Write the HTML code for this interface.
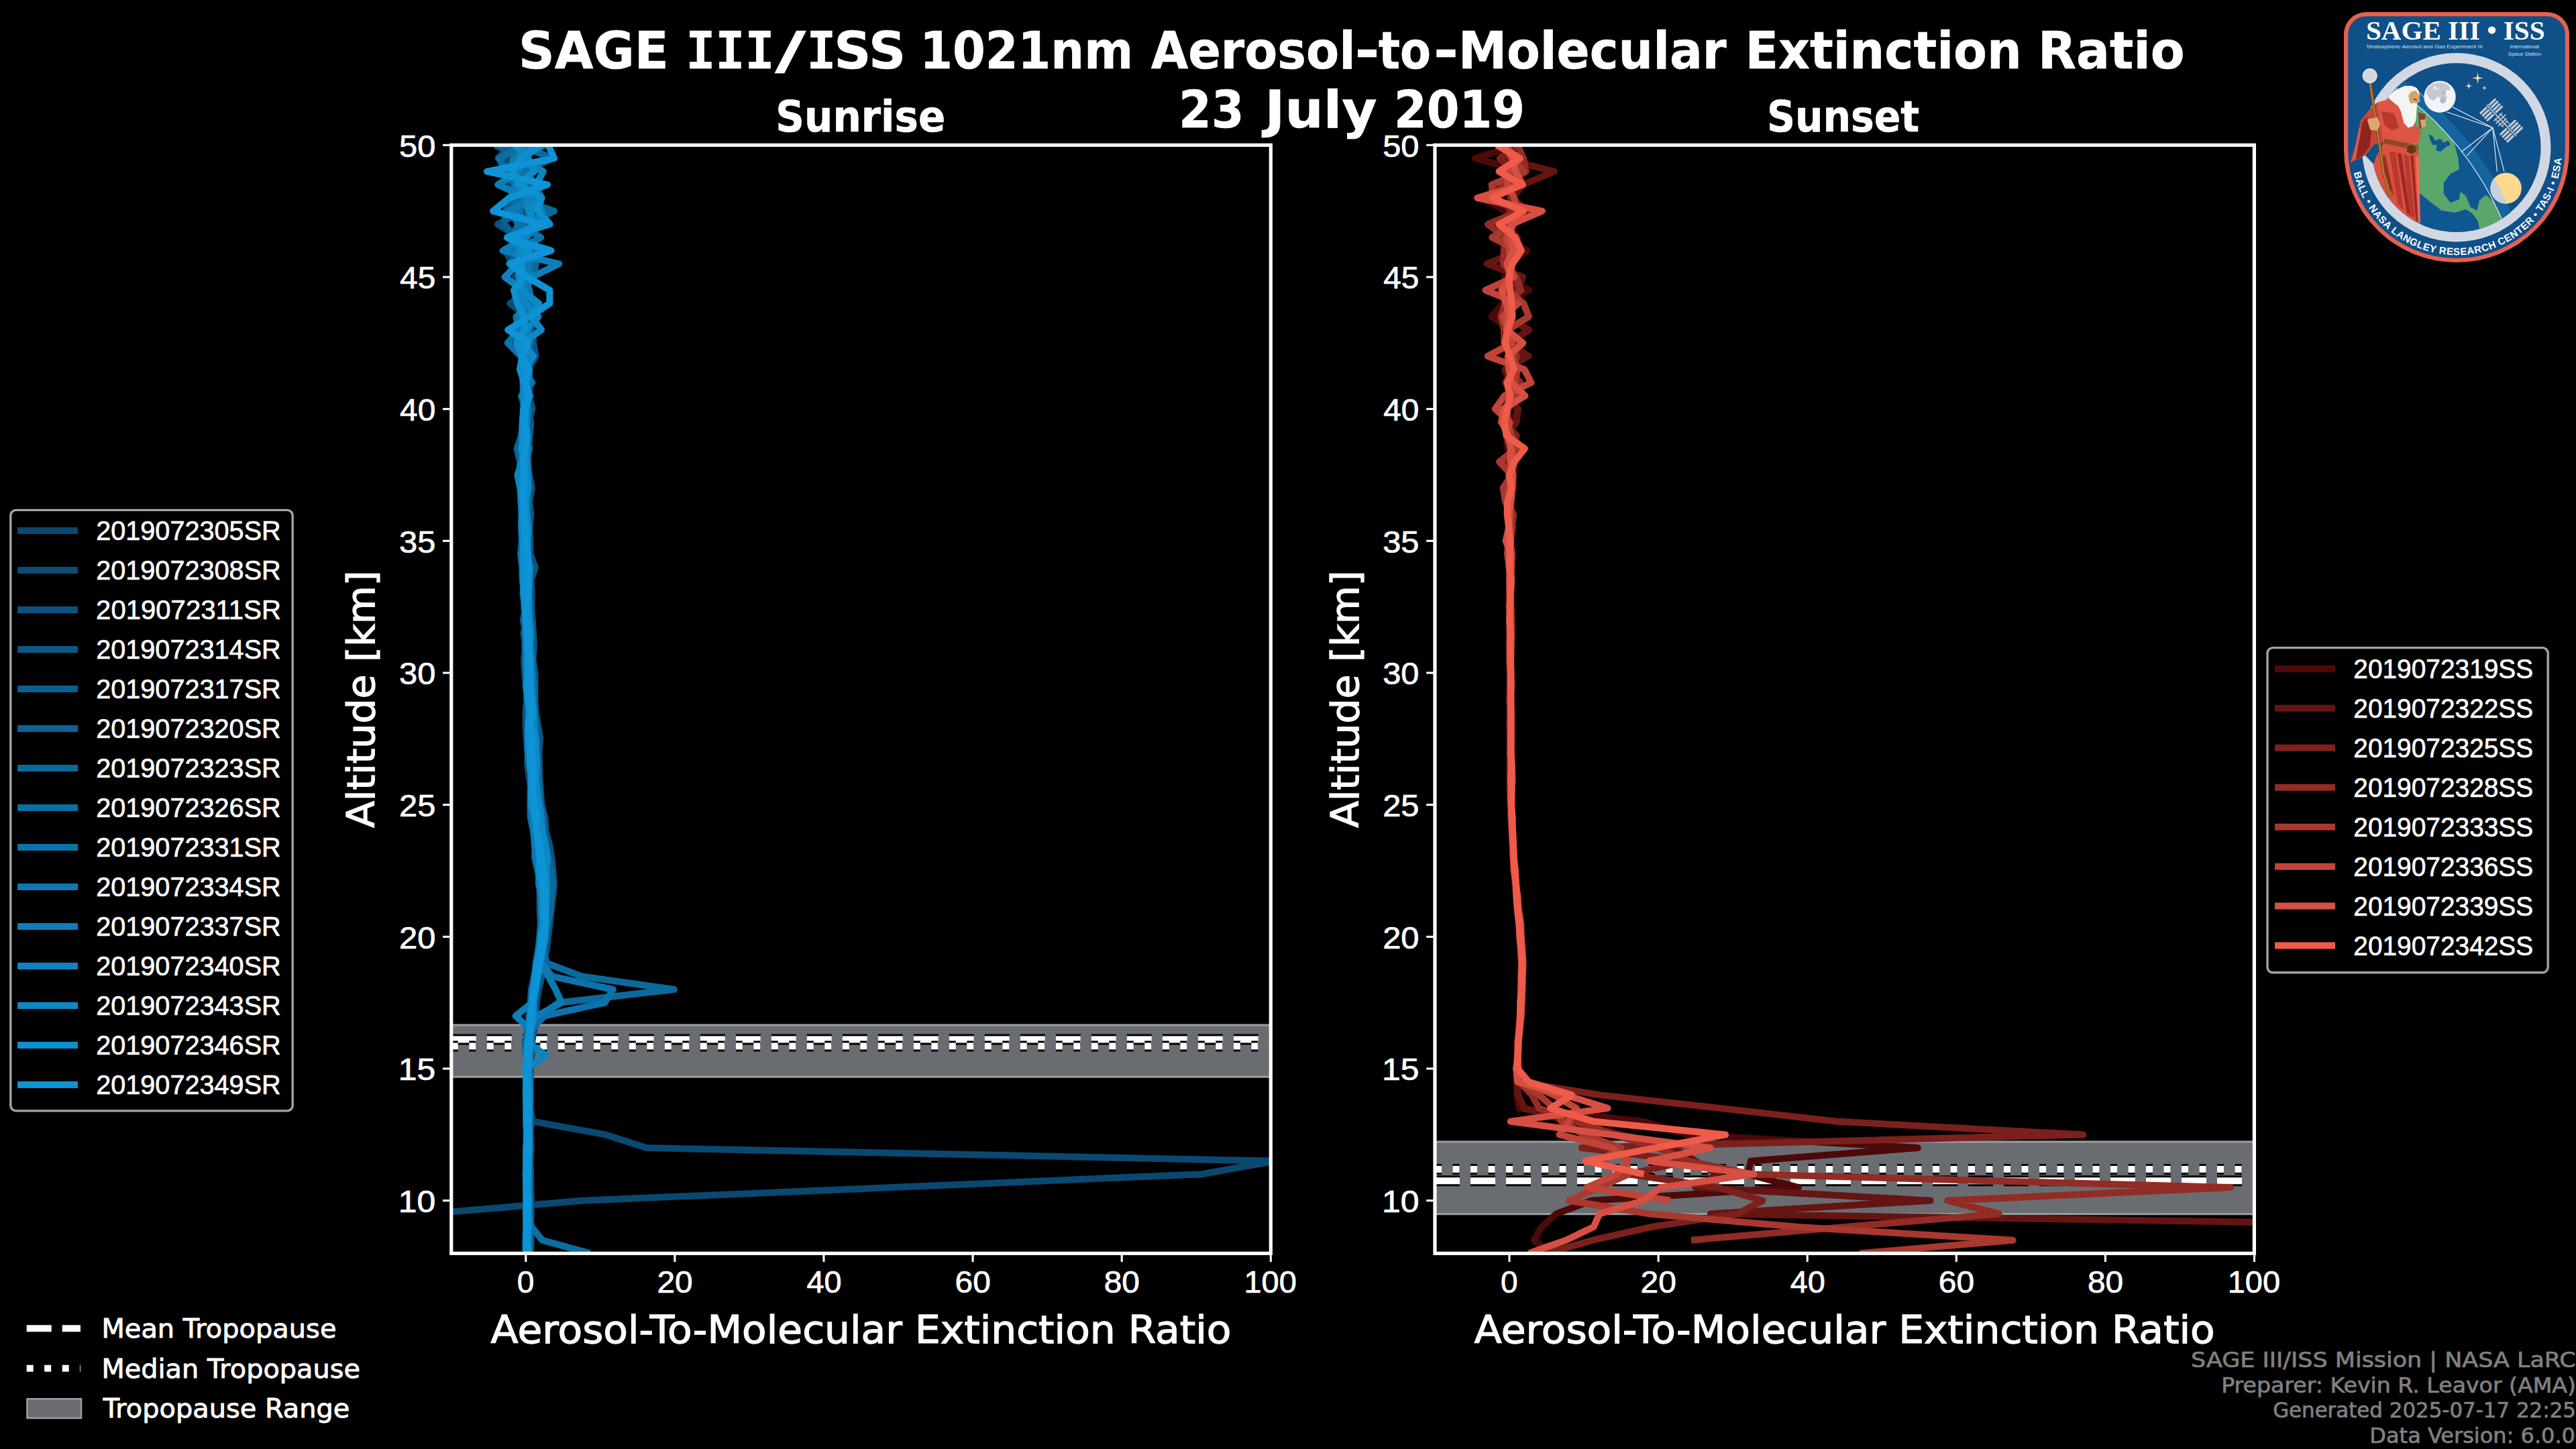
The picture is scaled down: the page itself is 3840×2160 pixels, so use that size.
<!DOCTYPE html>
<html lang="en"><head><meta charset="utf-8"><title>SAGE III/ISS 1021nm Aerosol-to-Molecular Extinction Ratio</title>
<style>html,body{margin:0;padding:0;background:#000;width:3840px;height:2160px;overflow:hidden}svg{display:block}</style></head>
<body>
<svg width="3840" height="2160" viewBox="0 0 3840 2160">
<rect width="3840" height="2160" fill="#000"/>
<defs>
<clipPath id="cl"><rect x="672.8" y="216.3" width="1221.5" height="1652.1000000000001"/></clipPath>
<clipPath id="cr"><rect x="2139.0" y="216.3" width="1221.4" height="1652.1000000000001"/></clipPath>
</defs>
<g clip-path="url(#cl)">
<rect x="672.8" y="1528.1" width="1221.5" height="77.1" fill="#696d72"/>
<line x1="672.8" x2="1894.3" y1="1528.1" y2="1528.1" stroke="#9a9ea3" stroke-width="3"/>
<line x1="672.8" x2="1894.3" y1="1605.2" y2="1605.2" stroke="#9a9ea3" stroke-width="3"/>
<line x1="672.8" x2="1894.3" y1="1549.4" y2="1549.4" stroke="#000" stroke-width="16" stroke-dasharray="37 16"/>
<line x1="672.8" x2="1894.3" y1="1549.4" y2="1549.4" stroke="#fff" stroke-width="10" stroke-dasharray="37 16"/>
<line x1="672.8" x2="1894.3" y1="1559.6" y2="1559.6" stroke="#000" stroke-width="16" stroke-dasharray="10 16.5"/>
<line x1="672.8" x2="1894.3" y1="1559.6" y2="1559.6" stroke="#fff" stroke-width="10" stroke-dasharray="10 16.5"/>
<polyline points="797.9,216.3 771.9,236.0 760.8,255.6 760.1,275.3 780.3,295.0 778.9,314.6 784.7,334.3 784.6,354.0 796.4,373.6 786.0,393.3 767.6,413.0 783.5,432.6 791.9,452.3 773.4,472.0 783.5,491.7 776.8,511.3 786.9,531.0 783.4,550.7 787.4,570.3 784.6,590.0 786.9,609.7 781.0,629.3 781.2,649.0 779.8,668.7 783.4,688.3 783.4,708.0 784.2,727.7 783.1,747.3 784.8,767.0 784.2,786.7 785.2,806.3 783.1,826.0 785.0,845.7 786.8,865.3 784.1,885.0 784.7,904.7 787.7,924.3 790.5,944.0 792.8,963.7 789.4,983.3 793.2,1003.0 795.6,1022.7 794.5,1042.4 794.3,1062.0 795.0,1081.7 794.0,1101.4 794.3,1121.0 795.3,1140.7 794.2,1160.4 798.2,1180.0 799.2,1199.7 803.9,1219.4 809.4,1239.0 812.2,1258.7 817.0,1278.4 820.3,1298.0 819.8,1317.7 817.1,1337.4 817.0,1357.0 815.7,1376.7 811.9,1396.4 809.1,1416.0 807.0,1435.7 803.3,1455.4 802.8,1475.0 798.7,1494.7 794.3,1514.4 792.3,1534.0 789.1,1553.7 788.4,1573.4 786.3,1593.0 787.8,1612.7 787.6,1632.4 790.5,1652.1 793.8,1671.7 902.7,1691.4 963.7,1711.1 1899.9,1730.7 1791.0,1750.4 1330.2,1770.1 868.2,1789.7 639.5,1809.4" fill="none" stroke="#0a4870" stroke-width="10" stroke-linejoin="round" stroke-linecap="butt"/>
<polyline points="765.7,216.3 760.2,236.0 753.3,255.6 779.4,275.3 781.0,295.0 765.6,314.6 797.6,334.3 786.9,354.0 753.5,373.6 763.7,393.3 784.2,413.0 787.5,432.6 760.2,452.3 785.6,472.0 771.4,491.7 788.2,511.3 779.5,531.0 779.9,550.7 781.9,570.3 785.9,590.0 781.8,609.7 780.3,629.3 778.4,649.0 778.1,668.7 776.5,688.3 777.8,708.0 779.3,727.7 779.5,747.3 781.1,767.0 782.5,786.7 778.2,806.3 777.4,826.0 782.5,845.7 782.5,865.3 781.5,885.0 781.1,904.7 783.8,924.3 780.5,944.0 783.2,963.7 781.1,983.3 782.0,1003.0 784.0,1022.7 785.2,1042.4 783.6,1062.0 783.6,1081.7 784.7,1101.4 786.7,1121.0 786.1,1140.7 789.0,1160.4 792.3,1180.0 795.7,1199.7 796.4,1219.4 800.0,1239.0 801.0,1258.7 804.2,1278.4 808.2,1298.0 806.0,1317.7 808.2,1337.4 806.7,1357.0 806.8,1376.7 804.8,1396.4 801.8,1416.0 798.4,1435.7 797.6,1455.4 792.0,1475.0 790.3,1494.7 788.1,1514.4 788.0,1534.0 785.2,1553.7 784.9,1573.4 784.9,1593.0 785.4,1612.7 784.6,1632.4 784.1,1652.1 784.8,1671.7 785.2,1691.4 784.9,1711.1 785.7,1730.7 785.1,1750.4 785.2,1770.1 785.4,1789.7 785.3,1809.4 784.8,1829.1 783.8,1848.7 786.1,1868.4" fill="none" stroke="#0a4d77" stroke-width="10" stroke-linejoin="round" stroke-linecap="butt"/>
<polyline points="761.6,216.3 742.6,236.0 778.4,255.6 790.3,275.3 805.2,295.0 782.2,314.6 741.9,334.3 773.9,354.0 794.6,373.6 799.0,393.3 772.4,413.0 784.7,432.6 784.4,452.3 798.6,472.0 792.1,491.7 795.3,511.3 798.5,531.0 787.0,550.7 790.2,570.3 788.5,590.0 793.6,609.7 787.4,629.3 788.3,649.0 788.0,668.7 787.1,688.3 788.9,708.0 792.9,727.7 789.2,747.3 791.5,767.0 789.2,786.7 790.3,806.3 790.4,826.0 797.9,845.7 791.5,865.3 792.7,885.0 792.3,904.7 793.3,924.3 795.1,944.0 795.9,963.7 794.4,983.3 797.6,1003.0 797.3,1022.7 797.4,1042.4 798.4,1062.0 802.2,1081.7 805.3,1101.4 803.3,1121.0 804.1,1140.7 804.3,1160.4 805.9,1180.0 807.5,1199.7 812.5,1219.4 813.7,1239.0 819.0,1258.7 822.4,1278.4 824.3,1298.0 826.0,1317.7 824.0,1337.4 821.6,1357.0 819.5,1376.7 816.9,1396.4 814.7,1416.0 809.6,1435.7 807.7,1455.4 803.0,1475.0 799.7,1494.7 798.8,1514.4 796.5,1534.0 793.0,1553.7 792.8,1573.4 791.1,1593.0 790.3,1612.7 791.1,1632.4 790.7,1652.1 791.7,1671.7 790.6,1691.4 791.6,1711.1 790.3,1730.7 791.2,1750.4 791.2,1770.1 791.9,1789.7 791.7,1809.4 791.2,1829.1 791.7,1848.7 790.7,1868.4" fill="none" stroke="#0b537f" stroke-width="10" stroke-linejoin="round" stroke-linecap="butt"/>
<polyline points="793.8,216.3 780.1,236.0 792.3,255.6 770.9,275.3 785.9,295.0 801.3,314.6 779.6,334.3 772.5,354.0 795.2,373.6 785.7,393.3 787.2,413.0 781.5,432.6 782.4,452.3 775.4,472.0 784.9,491.7 785.2,511.3 785.7,531.0 784.3,550.7 790.5,570.3 781.3,590.0 784.1,609.7 791.4,629.3 789.6,649.0 787.3,668.7 783.9,688.3 785.1,708.0 783.6,727.7 788.1,747.3 784.3,767.0 786.6,786.7 787.3,806.3 788.0,826.0 789.4,845.7 787.5,865.3 788.9,885.0 788.9,904.7 793.6,924.3 794.0,944.0 795.1,963.7 793.1,983.3 794.3,1003.0 793.9,1022.7 796.6,1042.4 796.4,1062.0 796.6,1081.7 798.7,1101.4 801.0,1121.0 802.4,1140.7 802.6,1160.4 801.6,1180.0 805.3,1199.7 806.6,1219.4 807.9,1239.0 810.5,1258.7 813.5,1278.4 817.3,1298.0 814.8,1317.7 815.5,1337.4 814.6,1357.0 813.0,1376.7 811.7,1396.4 809.2,1416.0 808.4,1435.7 803.6,1455.4 799.6,1475.0 798.7,1494.7 795.2,1514.4 794.2,1534.0 791.2,1553.7 788.5,1573.4 788.0,1593.0 787.6,1612.7 788.6,1632.4 787.8,1652.1 789.3,1671.7 789.0,1691.4 789.2,1711.1 789.7,1730.7 789.5,1750.4 789.2,1770.1 789.7,1789.7 789.8,1809.4 789.3,1829.1 789.2,1848.7 789.3,1868.4" fill="none" stroke="#0b5886" stroke-width="10" stroke-linejoin="round" stroke-linecap="butt"/>
<polyline points="738.2,216.3 777.9,236.0 772.2,255.6 792.7,275.3 763.1,295.0 753.8,314.6 751.9,334.3 769.1,354.0 781.6,373.6 780.7,393.3 796.4,413.0 768.7,432.6 797.8,452.3 782.6,472.0 776.1,491.7 782.1,511.3 783.0,531.0 776.5,550.7 782.4,570.3 790.5,590.0 780.2,609.7 779.0,629.3 778.0,649.0 774.0,668.7 777.1,688.3 775.7,708.0 776.8,727.7 780.5,747.3 780.6,767.0 779.0,786.7 780.3,806.3 780.9,826.0 780.1,845.7 781.8,865.3 779.5,885.0 783.3,904.7 779.8,924.3 784.1,944.0 782.3,963.7 784.4,983.3 784.3,1003.0 786.3,1022.7 785.9,1042.4 785.3,1062.0 788.0,1081.7 787.4,1101.4 789.4,1121.0 791.5,1140.7 794.1,1160.4 794.7,1180.0 794.8,1199.7 800.1,1219.4 801.6,1239.0 801.9,1258.7 803.4,1278.4 806.1,1298.0 809.0,1317.7 809.9,1337.4 810.9,1357.0 808.5,1376.7 805.5,1396.4 802.4,1416.0 800.4,1435.7 796.1,1455.4 792.2,1475.0 792.3,1494.7 790.6,1514.4 788.5,1534.0 786.9,1553.7 787.2,1573.4 785.4,1593.0 785.6,1612.7 786.1,1632.4 785.8,1652.1 786.4,1671.7 786.5,1691.4 785.6,1711.1 785.8,1730.7 785.7,1750.4 784.7,1770.1 784.7,1789.7 784.5,1809.4 785.1,1829.1 784.4,1848.7 784.6,1868.4" fill="none" stroke="#0b5e8d" stroke-width="10" stroke-linejoin="round" stroke-linecap="butt"/>
<polyline points="748.1,216.3 787.4,236.0 754.7,255.6 777.2,275.3 787.3,295.0 760.8,314.6 786.7,334.3 775.3,354.0 772.7,373.6 761.0,393.3 793.6,413.0 780.7,432.6 779.4,452.3 776.5,472.0 788.8,491.7 790.9,511.3 777.1,531.0 778.5,550.7 779.9,570.3 780.4,590.0 780.4,609.7 779.0,629.3 777.2,649.0 770.6,668.7 775.2,688.3 774.5,708.0 776.3,727.7 776.1,747.3 778.3,767.0 777.2,786.7 777.8,806.3 776.0,826.0 778.2,845.7 778.7,865.3 781.5,885.0 783.5,904.7 782.7,924.3 785.0,944.0 785.9,963.7 783.2,983.3 784.3,1003.0 784.6,1022.7 786.9,1042.4 787.6,1062.0 787.9,1081.7 790.6,1101.4 790.1,1121.0 790.2,1140.7 791.1,1160.4 790.7,1180.0 790.3,1199.7 790.8,1219.4 794.9,1239.0 798.1,1258.7 797.0,1278.4 801.4,1298.0 805.1,1317.7 804.7,1337.4 804.9,1357.0 805.8,1376.7 804.5,1396.4 802.6,1416.0 799.8,1435.7 798.1,1455.4 795.1,1475.0 793.4,1494.7 789.7,1514.4 787.2,1534.0 782.3,1553.7 784.6,1573.4 784.9,1593.0 784.0,1612.7 785.5,1632.4 784.6,1652.1 784.5,1671.7 785.2,1691.4 785.8,1711.1 785.2,1730.7 784.8,1750.4 784.2,1770.1 784.9,1789.7 784.3,1809.4 784.1,1829.1 783.3,1848.7 783.6,1868.4" fill="none" stroke="#0b6394" stroke-width="10" stroke-linejoin="round" stroke-linecap="butt"/>
<polyline points="774.8,216.3 823.2,236.0 780.3,255.6 773.5,275.3 766.3,295.0 826.0,314.6 785.2,334.3 783.6,354.0 766.4,373.6 798.5,393.3 795.8,413.0 781.5,432.6 778.2,452.3 781.2,472.0 778.5,491.7 790.6,511.3 788.0,531.0 785.9,550.7 783.3,570.3 782.0,590.0 787.0,609.7 783.8,629.3 786.1,649.0 789.3,668.7 782.9,688.3 788.3,708.0 785.5,727.7 787.8,747.3 786.6,767.0 786.1,786.7 784.0,806.3 785.4,826.0 789.5,845.7 789.6,865.3 788.1,885.0 790.2,904.7 788.4,924.3 789.9,944.0 787.9,963.7 791.3,983.3 792.7,1003.0 797.2,1022.7 796.4,1042.4 797.1,1062.0 798.6,1081.7 799.7,1101.4 800.6,1121.0 801.0,1140.7 803.1,1160.4 803.6,1180.0 806.0,1199.7 809.1,1219.4 810.5,1239.0 813.2,1258.7 817.5,1278.4 821.6,1298.0 823.7,1317.7 821.4,1337.4 819.9,1357.0 816.1,1376.7 812.5,1396.4 810.0,1416.0 814.9,1435.7 867.1,1455.4 1004.8,1475.0 832.7,1494.7 804.9,1514.4 793.4,1534.0 790.7,1553.7 790.9,1573.4 789.6,1593.0 790.4,1612.7 789.9,1632.4 789.2,1652.1 789.4,1671.7 789.0,1691.4 789.3,1711.1 789.5,1730.7 788.5,1750.4 787.9,1770.1 788.3,1789.7 788.9,1809.4 788.4,1829.1 788.9,1848.7 789.6,1868.4" fill="none" stroke="#0c699c" stroke-width="10" stroke-linejoin="round" stroke-linecap="butt"/>
<polyline points="783.0,216.3 744.0,236.0 754.0,255.6 767.2,275.3 761.6,295.0 775.3,314.6 772.5,334.3 763.0,354.0 793.5,373.6 780.9,393.3 773.9,413.0 779.9,432.6 783.0,452.3 776.0,472.0 787.8,491.7 778.0,511.3 780.4,531.0 779.0,550.7 793.3,570.3 777.1,590.0 782.9,609.7 786.0,629.3 786.4,649.0 786.9,668.7 781.1,688.3 782.0,708.0 780.3,727.7 783.1,747.3 780.0,767.0 779.9,786.7 781.0,806.3 784.1,826.0 781.0,845.7 782.5,865.3 784.9,885.0 783.7,904.7 784.6,924.3 782.5,944.0 783.9,963.7 784.7,983.3 788.1,1003.0 783.5,1022.7 789.3,1042.4 788.6,1062.0 790.3,1081.7 790.2,1101.4 790.4,1121.0 790.9,1140.7 795.4,1160.4 794.7,1180.0 797.4,1199.7 800.2,1219.4 799.9,1239.0 801.5,1258.7 804.7,1278.4 811.0,1298.0 811.9,1317.7 814.2,1337.4 813.5,1357.0 812.3,1376.7 810.3,1396.4 807.6,1416.0 804.7,1435.7 800.5,1455.4 797.6,1475.0 793.7,1494.7 791.4,1514.4 789.9,1534.0 788.0,1553.7 787.0,1573.4 785.5,1593.0 785.3,1612.7 785.1,1632.4 785.3,1652.1 786.3,1671.7 785.4,1691.4 786.9,1711.1 786.4,1730.7 785.3,1750.4 785.7,1770.1 785.7,1789.7 786.3,1809.4 792.7,1829.1 808.3,1848.7 879.3,1868.4" fill="none" stroke="#0c6ea3" stroke-width="10" stroke-linejoin="round" stroke-linecap="butt"/>
<polyline points="807.4,216.3 769.4,236.0 784.8,255.6 797.2,275.3 807.6,295.0 759.3,314.6 773.2,334.3 806.4,354.0 770.5,373.6 778.1,393.3 779.6,413.0 789.3,432.6 791.8,452.3 769.3,472.0 773.4,491.7 756.8,511.3 776.5,531.0 787.7,550.7 786.4,570.3 781.0,590.0 788.1,609.7 785.4,629.3 779.8,649.0 779.7,668.7 778.2,688.3 779.0,708.0 782.3,727.7 778.2,747.3 778.7,767.0 779.7,786.7 780.1,806.3 781.7,826.0 783.2,845.7 784.6,865.3 788.1,885.0 786.4,904.7 786.9,924.3 788.1,944.0 783.4,963.7 786.8,983.3 789.8,1003.0 790.9,1022.7 791.8,1042.4 789.4,1062.0 793.5,1081.7 791.8,1101.4 794.6,1121.0 795.6,1140.7 795.7,1160.4 796.5,1180.0 796.6,1199.7 799.6,1219.4 803.0,1239.0 805.8,1258.7 806.2,1278.4 808.5,1298.0 811.4,1317.7 813.7,1337.4 813.6,1357.0 808.9,1376.7 809.2,1396.4 806.7,1416.0 808.3,1435.7 822.7,1455.4 913.8,1475.0 901.6,1494.7 811.6,1514.4 792.3,1534.0 788.9,1553.7 788.4,1573.4 786.7,1593.0 787.5,1612.7 786.7,1632.4 786.3,1652.1 785.8,1671.7 786.2,1691.4 785.8,1711.1 786.4,1730.7 786.5,1750.4 786.3,1770.1 786.3,1789.7 786.7,1809.4 787.3,1829.1 786.9,1848.7 786.5,1868.4" fill="none" stroke="#0c73aa" stroke-width="10" stroke-linejoin="round" stroke-linecap="butt"/>
<polyline points="802.0,216.3 765.6,236.0 760.9,255.6 774.4,275.3 798.0,295.0 757.4,314.6 800.6,334.3 762.7,354.0 803.6,373.6 787.5,393.3 791.1,413.0 781.4,432.6 792.7,452.3 777.1,472.0 774.1,491.7 779.5,511.3 779.4,531.0 777.7,550.7 779.7,570.3 779.8,590.0 783.6,609.7 781.4,629.3 778.7,649.0 781.6,668.7 777.7,688.3 777.5,708.0 780.1,727.7 782.5,747.3 780.2,767.0 782.9,786.7 782.8,806.3 778.2,826.0 779.9,845.7 781.4,865.3 780.1,885.0 782.0,904.7 784.0,924.3 786.3,944.0 786.6,963.7 787.5,983.3 786.7,1003.0 786.9,1022.7 788.4,1042.4 789.1,1062.0 787.3,1081.7 786.9,1101.4 786.6,1121.0 789.7,1140.7 794.2,1160.4 792.4,1180.0 792.0,1199.7 793.1,1219.4 795.5,1239.0 796.7,1258.7 798.9,1278.4 803.2,1298.0 803.0,1317.7 806.9,1337.4 808.3,1357.0 808.6,1376.7 806.5,1396.4 804.3,1416.0 806.1,1435.7 817.2,1455.4 828.3,1475.0 837.1,1494.7 800.5,1514.4 788.6,1534.0 786.8,1553.7 784.8,1573.4 784.8,1593.0 784.7,1612.7 784.0,1632.4 784.4,1652.1 784.2,1671.7 785.2,1691.4 784.2,1711.1 783.9,1730.7 784.3,1750.4 784.2,1770.1 784.2,1789.7 783.8,1809.4 784.6,1829.1 784.2,1848.7 784.4,1868.4" fill="none" stroke="#0d79b2" stroke-width="10" stroke-linejoin="round" stroke-linecap="butt"/>
<polyline points="811.1,216.3 776.3,236.0 773.9,255.6 742.2,275.3 785.6,295.0 808.1,314.6 798.0,334.3 784.1,354.0 749.7,373.6 833.2,393.3 792.9,413.0 766.5,432.6 783.8,452.3 774.0,472.0 787.6,491.7 783.1,511.3 783.2,531.0 789.2,550.7 787.8,570.3 781.6,590.0 780.9,609.7 782.5,629.3 782.7,649.0 786.2,668.7 784.5,688.3 781.7,708.0 780.3,727.7 783.2,747.3 783.6,767.0 783.4,786.7 783.8,806.3 784.2,826.0 785.0,845.7 786.1,865.3 783.2,885.0 786.2,904.7 787.8,924.3 788.2,944.0 790.0,963.7 792.5,983.3 793.0,1003.0 792.3,1022.7 793.7,1042.4 796.0,1062.0 796.7,1081.7 796.5,1101.4 793.4,1121.0 798.3,1140.7 796.9,1160.4 796.3,1180.0 798.0,1199.7 802.0,1219.4 803.6,1239.0 804.7,1258.7 807.5,1278.4 810.3,1298.0 810.7,1317.7 810.6,1337.4 810.9,1357.0 810.6,1376.7 809.7,1396.4 804.1,1416.0 801.3,1435.7 796.9,1455.4 795.7,1475.0 793.2,1494.7 768.7,1514.4 789.7,1534.0 788.7,1553.7 787.0,1573.4 786.6,1593.0 785.7,1612.7 785.7,1632.4 786.4,1652.1 786.5,1671.7 786.6,1691.4 787.2,1711.1 787.2,1730.7 787.2,1750.4 786.5,1770.1 786.4,1789.7 787.0,1809.4 786.2,1829.1 784.4,1848.7 786.4,1868.4" fill="none" stroke="#0d7eb9" stroke-width="10" stroke-linejoin="round" stroke-linecap="butt"/>
<polyline points="787.1,216.3 776.0,236.0 809.7,255.6 799.5,275.3 785.8,295.0 787.7,314.6 795.9,334.3 779.1,354.0 776.7,373.6 771.6,393.3 752.6,413.0 778.8,432.6 781.9,452.3 802.5,472.0 783.7,491.7 783.8,511.3 779.0,531.0 781.0,550.7 782.0,570.3 780.3,590.0 782.4,609.7 779.9,629.3 778.2,649.0 781.2,668.7 777.7,688.3 771.5,708.0 775.3,727.7 777.8,747.3 777.6,767.0 777.5,786.7 779.4,806.3 781.1,826.0 780.6,845.7 780.8,865.3 783.0,885.0 783.4,904.7 783.7,924.3 784.8,944.0 787.6,963.7 784.6,983.3 785.8,1003.0 787.2,1022.7 788.7,1042.4 791.7,1062.0 789.3,1081.7 789.1,1101.4 792.0,1121.0 792.7,1140.7 792.9,1160.4 795.3,1180.0 796.4,1199.7 800.5,1219.4 801.7,1239.0 800.2,1258.7 804.1,1278.4 807.2,1298.0 810.2,1317.7 808.9,1337.4 810.6,1357.0 810.1,1376.7 808.4,1396.4 804.1,1416.0 801.2,1435.7 798.6,1455.4 793.9,1475.0 792.6,1494.7 789.8,1514.4 789.5,1534.0 786.4,1553.7 813.8,1573.4 785.4,1593.0 785.2,1612.7 784.6,1632.4 786.0,1652.1 785.7,1671.7 784.7,1691.4 785.1,1711.1 784.9,1730.7 785.8,1750.4 784.6,1770.1 785.1,1789.7 784.7,1809.4 786.3,1829.1 786.0,1848.7 785.2,1868.4" fill="none" stroke="#0d84c0" stroke-width="10" stroke-linejoin="round" stroke-linecap="butt"/>
<polyline points="767.8,216.3 787.6,236.0 796.4,255.6 769.5,275.3 804.0,295.0 791.7,314.6 794.4,334.3 778.6,354.0 774.6,373.6 773.1,393.3 773.6,413.0 777.8,432.6 803.0,452.3 793.0,472.0 807.0,491.7 779.5,511.3 794.9,531.0 782.8,550.7 784.3,570.3 779.4,590.0 783.7,609.7 784.4,629.3 783.0,649.0 782.0,668.7 785.7,688.3 786.2,708.0 787.9,727.7 783.5,747.3 784.9,767.0 787.5,786.7 786.5,806.3 786.3,826.0 789.6,845.7 788.8,865.3 787.9,885.0 787.7,904.7 789.1,924.3 791.4,944.0 789.5,963.7 789.7,983.3 791.6,1003.0 791.7,1022.7 793.7,1042.4 793.5,1062.0 793.2,1081.7 798.4,1101.4 798.9,1121.0 800.2,1140.7 798.5,1160.4 800.7,1180.0 803.7,1199.7 806.8,1219.4 808.2,1239.0 812.7,1258.7 815.8,1278.4 813.9,1298.0 815.1,1317.7 814.4,1337.4 813.6,1357.0 812.4,1376.7 812.9,1396.4 809.0,1416.0 805.5,1435.7 801.6,1455.4 798.5,1475.0 795.4,1494.7 795.1,1514.4 791.5,1534.0 790.3,1553.7 789.5,1573.4 788.2,1593.0 788.8,1612.7 788.7,1632.4 788.9,1652.1 788.5,1671.7 788.7,1691.4 788.6,1711.1 787.3,1730.7 787.8,1750.4 787.9,1770.1 788.7,1789.7 788.1,1809.4 788.3,1829.1 786.9,1848.7 788.1,1868.4" fill="none" stroke="#0d89c7" stroke-width="10" stroke-linejoin="round" stroke-linecap="butt"/>
<polyline points="805.0,216.3 776.4,236.0 763.5,255.6 776.4,275.3 807.2,295.0 802.0,314.6 819.8,334.3 755.9,354.0 788.5,373.6 777.0,393.3 780.3,413.0 766.0,432.6 771.3,452.3 781.0,472.0 782.3,491.7 770.0,511.3 778.5,531.0 774.9,550.7 781.5,570.3 786.3,590.0 780.4,609.7 778.8,629.3 779.6,649.0 777.4,668.7 781.9,688.3 780.0,708.0 778.2,727.7 783.0,747.3 778.8,767.0 781.8,786.7 780.9,806.3 779.5,826.0 780.2,845.7 780.3,865.3 781.3,885.0 782.9,904.7 784.5,924.3 785.8,944.0 785.5,963.7 787.6,983.3 786.4,1003.0 785.2,1022.7 786.6,1042.4 789.6,1062.0 787.1,1081.7 787.7,1101.4 790.1,1121.0 789.9,1140.7 792.5,1160.4 791.8,1180.0 792.9,1199.7 797.6,1219.4 800.0,1239.0 802.4,1258.7 804.2,1278.4 804.1,1298.0 807.1,1317.7 809.8,1337.4 808.4,1357.0 810.1,1376.7 805.9,1396.4 804.7,1416.0 799.8,1435.7 797.5,1455.4 796.3,1475.0 793.6,1494.7 791.7,1514.4 789.0,1534.0 786.1,1553.7 785.0,1573.4 783.2,1593.0 784.4,1612.7 783.7,1632.4 785.2,1652.1 785.1,1671.7 786.1,1691.4 784.8,1711.1 784.8,1730.7 783.7,1750.4 784.7,1770.1 785.1,1789.7 785.6,1809.4 785.5,1829.1 785.3,1848.7 785.2,1868.4" fill="none" stroke="#0e8fcf" stroke-width="10" stroke-linejoin="round" stroke-linecap="butt"/>
<polyline points="817.2,216.3 826.0,236.0 726.1,255.6 816.0,275.3 759.4,295.0 735.0,314.6 809.4,334.3 756.1,354.0 821.6,373.6 759.4,393.3 786.1,413.0 819.4,432.6 819.4,452.3 789.4,472.0 757.2,491.7 787.2,511.3 778.5,531.0 788.3,550.7 783.4,570.3 788.9,590.0 783.6,609.7 781.2,629.3 786.3,649.0 783.5,668.7 780.2,688.3 781.3,708.0 780.4,727.7 780.0,747.3 781.1,767.0 783.6,786.7 783.5,806.3 786.8,826.0 787.2,845.7 785.5,865.3 787.0,885.0 785.4,904.7 783.7,924.3 787.1,944.0 788.0,963.7 789.5,983.3 788.2,1003.0 789.9,1022.7 790.8,1042.4 793.6,1062.0 789.9,1081.7 793.1,1101.4 793.1,1121.0 793.3,1140.7 794.6,1160.4 793.8,1180.0 796.7,1199.7 800.2,1219.4 799.1,1239.0 804.9,1258.7 806.4,1278.4 809.7,1298.0 810.6,1317.7 812.7,1337.4 812.3,1357.0 813.3,1376.7 810.1,1396.4 807.4,1416.0 804.4,1435.7 800.1,1455.4 797.2,1475.0 793.1,1494.7 792.6,1514.4 790.6,1534.0 789.4,1553.7 786.7,1573.4 785.9,1593.0 785.2,1612.7 787.0,1632.4 786.8,1652.1 787.5,1671.7 787.0,1691.4 787.2,1711.1 786.7,1730.7 787.1,1750.4 785.7,1770.1 786.0,1789.7 785.7,1809.4 784.9,1829.1 785.5,1848.7 785.8,1868.4" fill="none" stroke="#0e94d6" stroke-width="10" stroke-linejoin="round" stroke-linecap="butt"/>
</g>
<rect x="672.8" y="216.3" width="1221.5" height="1652.1000000000001" fill="none" stroke="#fff" stroke-width="5.2"/>
<line x1="660.0" x2="670.8" y1="1789.7" y2="1789.7" stroke="#fff" stroke-width="3.1"/>
<line x1="660.0" x2="670.8" y1="1593.0" y2="1593.0" stroke="#fff" stroke-width="3.1"/>
<line x1="660.0" x2="670.8" y1="1396.4" y2="1396.4" stroke="#fff" stroke-width="3.1"/>
<line x1="660.0" x2="670.8" y1="1199.7" y2="1199.7" stroke="#fff" stroke-width="3.1"/>
<line x1="660.0" x2="670.8" y1="1003.0" y2="1003.0" stroke="#fff" stroke-width="3.1"/>
<line x1="660.0" x2="670.8" y1="806.3" y2="806.3" stroke="#fff" stroke-width="3.1"/>
<line x1="660.0" x2="670.8" y1="609.7" y2="609.7" stroke="#fff" stroke-width="3.1"/>
<line x1="660.0" x2="670.8" y1="413.0" y2="413.0" stroke="#fff" stroke-width="3.1"/>
<line x1="660.0" x2="670.8" y1="216.3" y2="216.3" stroke="#fff" stroke-width="3.1"/>
<line x1="783.8" x2="783.8" y1="1870.4" y2="1881.1" stroke="#fff" stroke-width="3.1"/>
<line x1="1005.9" x2="1005.9" y1="1870.4" y2="1881.1" stroke="#fff" stroke-width="3.1"/>
<line x1="1228.0" x2="1228.0" y1="1870.4" y2="1881.1" stroke="#fff" stroke-width="3.1"/>
<line x1="1450.1" x2="1450.1" y1="1870.4" y2="1881.1" stroke="#fff" stroke-width="3.1"/>
<line x1="1672.2" x2="1672.2" y1="1870.4" y2="1881.1" stroke="#fff" stroke-width="3.1"/>
<line x1="1894.3" x2="1894.3" y1="1870.4" y2="1881.1" stroke="#fff" stroke-width="3.1"/>
<g clip-path="url(#cr)">
<rect x="2139.0" y="1702.0" width="1221.4" height="107.8" fill="#696d72"/>
<line x1="2139.0" x2="3360.4" y1="1702.0" y2="1702.0" stroke="#9a9ea3" stroke-width="3"/>
<line x1="2139.0" x2="3360.4" y1="1809.8" y2="1809.8" stroke="#9a9ea3" stroke-width="3"/>
<line x1="2139.0" x2="3360.4" y1="1760.2" y2="1760.2" stroke="#000" stroke-width="16" stroke-dasharray="37 16"/>
<line x1="2139.0" x2="3360.4" y1="1760.2" y2="1760.2" stroke="#fff" stroke-width="10" stroke-dasharray="37 16"/>
<line x1="2139.0" x2="3360.4" y1="1742.9" y2="1742.9" stroke="#000" stroke-width="16" stroke-dasharray="10 16.5"/>
<line x1="2139.0" x2="3360.4" y1="1742.9" y2="1742.9" stroke="#fff" stroke-width="10" stroke-dasharray="10 16.5"/>
<polyline points="2262.0,216.3 2199.0,236.0 2272.7,255.6 2242.8,275.3 2208.4,295.0 2244.8,314.6 2251.5,334.3 2242.2,354.0 2276.3,373.6 2250.0,393.3 2243.1,413.0 2279.1,432.6 2240.2,452.3 2223.5,472.0 2252.9,491.7 2257.3,511.3 2246.2,531.0 2257.6,550.7 2249.8,570.3 2247.4,590.0 2263.7,609.7 2253.7,629.3 2256.6,649.0 2263.1,668.7 2248.4,688.3 2254.7,708.0 2256.3,727.7 2245.4,747.3 2246.6,767.0 2248.4,786.7 2250.8,806.3 2251.5,826.0 2251.4,845.7 2251.4,865.3 2249.7,885.0 2249.2,904.7 2251.8,924.3 2250.8,944.0 2250.3,963.7 2250.1,983.3 2251.0,1003.0 2252.2,1022.7 2250.5,1042.4 2251.3,1062.0 2249.7,1081.7 2252.2,1101.4 2251.4,1121.0 2251.8,1140.7 2252.1,1160.4 2251.5,1180.0 2252.4,1199.7 2254.0,1219.4 2254.0,1239.0 2255.1,1258.7 2255.8,1278.4 2258.5,1298.0 2259.9,1317.7 2261.2,1337.4 2264.6,1357.0 2265.2,1376.7 2267.6,1396.4 2268.5,1416.0 2269.5,1435.7 2268.3,1455.4 2267.7,1475.0 2267.0,1494.7 2266.0,1514.4 2264.4,1534.0 2262.4,1553.7 2261.3,1573.4 2261.2,1593.0 2261.2,1612.7 2261.2,1632.4 2264.5,1652.1 2449.9,1671.7 2516.6,1691.4 2858.6,1711.1 2609.8,1730.7 2605.4,1750.4 2680.9,1770.1 2372.2,1789.7 2320.0,1809.4 2297.8,1829.1 2286.7,1848.7 2311.1,1868.4" fill="none" stroke="#4d0909" stroke-width="10" stroke-linejoin="round" stroke-linecap="butt"/>
<polyline points="2253.7,216.3 2238.8,236.0 2316.7,255.6 2270.4,275.3 2254.5,295.0 2276.4,314.6 2243.5,334.3 2261.9,354.0 2264.5,373.6 2216.7,393.3 2270.2,413.0 2260.8,432.6 2262.8,452.3 2242.3,472.0 2279.4,491.7 2248.9,511.3 2278.7,531.0 2243.3,550.7 2250.9,570.3 2246.7,590.0 2262.6,609.7 2260.7,629.3 2245.5,649.0 2248.3,668.7 2257.1,688.3 2256.3,708.0 2255.2,727.7 2246.8,747.3 2250.2,767.0 2250.2,786.7 2252.5,806.3 2250.4,826.0 2249.2,845.7 2251.2,865.3 2250.4,885.0 2250.6,904.7 2250.5,924.3 2250.7,944.0 2249.1,963.7 2250.3,983.3 2251.1,1003.0 2250.9,1022.7 2249.2,1042.4 2252.7,1062.0 2251.3,1081.7 2252.2,1101.4 2251.0,1121.0 2250.5,1140.7 2250.5,1160.4 2250.7,1180.0 2251.4,1199.7 2253.0,1219.4 2254.1,1239.0 2255.1,1258.7 2255.7,1278.4 2257.7,1298.0 2258.4,1317.7 2260.2,1337.4 2261.4,1357.0 2264.2,1376.7 2265.9,1396.4 2266.8,1416.0 2268.7,1435.7 2267.8,1455.4 2266.8,1475.0 2266.8,1494.7 2265.7,1514.4 2264.9,1534.0 2263.1,1553.7 2261.9,1573.4 2261.2,1593.0 2261.2,1612.7 2263.4,1632.4 2272.3,1652.1 2338.9,1671.7 2416.6,1691.4 2494.3,1711.1 2527.7,1730.7 2561.0,1750.4 2527.7,1770.1 2877.5,1789.7 2549.9,1809.4 3826.9,1829.1" fill="none" stroke="#641512" stroke-width="10" stroke-linejoin="round" stroke-linecap="butt"/>
<polyline points="2263.4,216.3 2235.7,236.0 2254.8,255.6 2253.2,275.3 2251.0,295.0 2251.1,314.6 2245.0,334.3 2252.4,354.0 2256.5,373.6 2246.0,393.3 2253.5,413.0 2264.5,432.6 2245.3,452.3 2236.7,472.0 2248.0,491.7 2267.0,511.3 2251.7,531.0 2255.5,550.7 2244.4,570.3 2253.1,590.0 2243.0,609.7 2237.1,629.3 2260.7,649.0 2254.1,668.7 2246.6,688.3 2250.3,708.0 2252.1,727.7 2250.1,747.3 2250.2,767.0 2255.0,786.7 2251.7,806.3 2252.5,826.0 2252.0,845.7 2251.8,865.3 2251.7,885.0 2251.2,904.7 2251.1,924.3 2249.9,944.0 2251.4,963.7 2251.7,983.3 2251.4,1003.0 2251.1,1022.7 2251.2,1042.4 2251.1,1062.0 2250.8,1081.7 2251.2,1101.4 2251.9,1121.0 2251.3,1140.7 2251.6,1160.4 2251.6,1180.0 2252.9,1199.7 2253.7,1219.4 2254.7,1239.0 2256.1,1258.7 2256.4,1278.4 2258.7,1298.0 2259.4,1317.7 2261.2,1337.4 2263.3,1357.0 2264.6,1376.7 2267.2,1396.4 2267.6,1416.0 2269.0,1435.7 2269.4,1455.4 2269.0,1475.0 2268.2,1494.7 2267.6,1514.4 2266.0,1534.0 2263.9,1553.7 2263.0,1573.4 2261.2,1593.0 2263.4,1612.7 2385.5,1632.4 2565.4,1652.1 2738.6,1671.7 3105.1,1691.4 2357.8,1711.1 2516.6,1730.7 2427.7,1750.4 2561.0,1770.1 2627.6,1789.7 2589.8,1809.4 2461.0,1829.1 2374.4,1848.7 2305.6,1868.4" fill="none" stroke="#7b201c" stroke-width="10" stroke-linejoin="round" stroke-linecap="butt"/>
<polyline points="2262.1,216.3 2271.0,236.0 2274.8,255.6 2244.2,275.3 2219.5,295.0 2265.1,314.6 2217.9,334.3 2244.0,354.0 2241.9,373.6 2240.8,393.3 2260.1,413.0 2267.3,432.6 2243.6,452.3 2237.4,472.0 2242.0,491.7 2242.3,511.3 2261.7,531.0 2249.5,550.7 2266.0,570.3 2262.4,590.0 2245.7,609.7 2237.7,629.3 2251.1,649.0 2257.7,668.7 2252.3,688.3 2249.2,708.0 2250.1,727.7 2247.7,747.3 2256.3,767.0 2253.3,786.7 2251.8,806.3 2249.3,826.0 2251.1,845.7 2249.9,865.3 2251.3,885.0 2252.1,904.7 2252.2,924.3 2251.9,944.0 2252.6,963.7 2250.2,983.3 2251.3,1003.0 2251.9,1022.7 2251.8,1042.4 2251.8,1062.0 2251.7,1081.7 2251.3,1101.4 2251.0,1121.0 2253.2,1140.7 2252.0,1160.4 2252.0,1180.0 2252.8,1199.7 2252.5,1219.4 2254.0,1239.0 2254.5,1258.7 2255.9,1278.4 2258.3,1298.0 2259.7,1317.7 2262.4,1337.4 2263.6,1357.0 2265.6,1376.7 2267.8,1396.4 2268.4,1416.0 2269.7,1435.7 2267.8,1455.4 2268.2,1475.0 2266.5,1494.7 2266.6,1514.4 2264.3,1534.0 2263.6,1553.7 2262.3,1573.4 2262.3,1593.0 2264.5,1612.7 2283.4,1632.4 2294.5,1652.1 2350.0,1671.7 2405.5,1691.4 2472.1,1711.1 2516.6,1730.7 2610.9,1750.4 3325.0,1770.1 2903.0,1789.7 2979.6,1809.4 2749.8,1829.1 2521.0,1848.7" fill="none" stroke="#922c25" stroke-width="10" stroke-linejoin="round" stroke-linecap="butt"/>
<polyline points="2246.9,216.3 2252.4,236.0 2271.4,255.6 2223.7,275.3 2225.9,295.0 2268.4,314.6 2254.4,334.3 2224.3,354.0 2262.7,373.6 2252.7,393.3 2249.6,413.0 2247.4,432.6 2271.2,452.3 2278.9,472.0 2247.4,491.7 2249.4,511.3 2256.3,531.0 2261.6,550.7 2258.9,570.3 2260.9,590.0 2247.7,609.7 2247.0,629.3 2253.1,649.0 2259.8,668.7 2235.1,688.3 2253.3,708.0 2240.7,727.7 2244.0,747.3 2251.9,767.0 2252.5,786.7 2251.2,806.3 2254.2,826.0 2253.1,845.7 2253.2,865.3 2252.2,885.0 2252.3,904.7 2253.1,924.3 2253.2,944.0 2252.8,963.7 2252.2,983.3 2251.7,1003.0 2252.8,1022.7 2251.5,1042.4 2252.5,1062.0 2252.4,1081.7 2251.6,1101.4 2252.3,1121.0 2252.4,1140.7 2251.9,1160.4 2252.4,1180.0 2252.7,1199.7 2253.8,1219.4 2253.8,1239.0 2255.9,1258.7 2257.1,1278.4 2258.3,1298.0 2259.7,1317.7 2261.1,1337.4 2263.2,1357.0 2265.6,1376.7 2265.9,1396.4 2267.9,1416.0 2269.2,1435.7 2269.1,1455.4 2268.3,1475.0 2268.2,1494.7 2266.8,1514.4 2264.4,1534.0 2263.6,1553.7 2262.7,1573.4 2262.3,1593.0 2266.7,1612.7 2294.5,1632.4 2316.7,1652.1 2327.8,1671.7 2361.1,1691.4 2416.6,1711.1 2383.3,1730.7 2427.7,1750.4 2383.3,1770.1 2338.9,1789.7 2457.7,1809.4 2680.9,1829.1 3000.7,1848.7 2772.0,1868.4" fill="none" stroke="#a9382f" stroke-width="10" stroke-linejoin="round" stroke-linecap="butt"/>
<polyline points="2236.1,216.3 2266.3,236.0 2248.0,255.6 2247.3,275.3 2256.9,295.0 2262.8,314.6 2256.3,334.3 2245.4,354.0 2250.8,373.6 2249.8,393.3 2257.0,413.0 2214.5,432.6 2263.0,452.3 2240.0,472.0 2248.4,491.7 2254.5,511.3 2217.8,531.0 2272.3,550.7 2282.6,570.3 2242.6,590.0 2228.9,609.7 2250.7,629.3 2246.4,649.0 2253.1,668.7 2257.6,688.3 2250.9,708.0 2251.7,727.7 2249.4,747.3 2248.6,767.0 2249.3,786.7 2248.7,806.3 2247.1,826.0 2250.0,845.7 2251.1,865.3 2251.5,885.0 2251.2,904.7 2250.4,924.3 2251.3,944.0 2251.1,963.7 2250.8,983.3 2251.8,1003.0 2252.7,1022.7 2252.0,1042.4 2251.6,1062.0 2252.3,1081.7 2252.2,1101.4 2251.3,1121.0 2252.4,1140.7 2252.1,1160.4 2251.7,1180.0 2252.9,1199.7 2252.9,1219.4 2254.1,1239.0 2255.4,1258.7 2255.7,1278.4 2256.5,1298.0 2259.6,1317.7 2261.6,1337.4 2263.0,1357.0 2265.4,1376.7 2265.2,1396.4 2266.8,1416.0 2268.0,1435.7 2267.3,1455.4 2267.2,1475.0 2267.2,1494.7 2266.2,1514.4 2264.2,1534.0 2262.5,1553.7 2262.7,1573.4 2263.4,1593.0 2272.3,1612.7 2316.7,1632.4 2350.0,1652.1 2338.9,1671.7 2324.4,1691.4 2403.3,1711.1 2427.7,1730.7 2411.1,1750.4 2365.5,1770.1 2489.9,1789.7" fill="none" stroke="#c04438" stroke-width="10" stroke-linejoin="round" stroke-linecap="butt"/>
<polyline points="2241.9,216.3 2255.4,236.0 2259.0,255.6 2269.8,275.3 2202.3,295.0 2298.9,314.6 2252.7,334.3 2252.9,354.0 2256.5,373.6 2246.2,393.3 2252.1,413.0 2238.4,432.6 2244.9,452.3 2250.1,472.0 2245.7,491.7 2270.2,511.3 2248.1,531.0 2249.3,550.7 2253.5,570.3 2273.4,590.0 2240.7,609.7 2239.1,629.3 2247.7,649.0 2252.2,668.7 2251.6,688.3 2255.0,708.0 2254.1,727.7 2252.6,747.3 2249.5,767.0 2249.1,786.7 2244.6,806.3 2252.2,826.0 2251.8,845.7 2250.4,865.3 2250.6,885.0 2251.8,904.7 2249.9,924.3 2251.6,944.0 2251.7,963.7 2251.6,983.3 2251.6,1003.0 2251.6,1022.7 2252.6,1042.4 2252.1,1062.0 2252.7,1081.7 2251.8,1101.4 2252.3,1121.0 2253.7,1140.7 2254.5,1160.4 2253.4,1180.0 2253.3,1199.7 2253.3,1219.4 2255.3,1239.0 2255.8,1258.7 2256.3,1278.4 2259.1,1298.0 2259.8,1317.7 2262.5,1337.4 2263.7,1357.0 2267.1,1376.7 2267.7,1396.4 2269.2,1416.0 2270.6,1435.7 2269.8,1455.4 2269.3,1475.0 2268.5,1494.7 2267.5,1514.4 2265.0,1534.0 2263.7,1553.7 2262.8,1573.4 2260.0,1593.0 2262.3,1612.7 2334.4,1632.4 2396.6,1652.1 2251.7,1671.7 2401.1,1691.4 2549.9,1711.1 2458.8,1730.7 2614.3,1750.4 2475.5,1770.1 2449.9,1789.7 2384.4,1809.4 2375.5,1829.1 2334.4,1848.7 2278.9,1868.4" fill="none" stroke="#d74f42" stroke-width="10" stroke-linejoin="round" stroke-linecap="butt"/>
<polyline points="2231.2,216.3 2265.6,236.0 2234.5,255.6 2268.9,275.3 2224.5,295.0 2271.1,314.6 2234.5,334.3 2258.9,354.0 2267.8,373.6 2254.5,393.3 2248.9,413.0 2251.2,432.6 2253.4,452.3 2254.5,472.0 2247.8,491.7 2243.4,511.3 2251.2,531.0 2256.7,550.7 2246.7,570.3 2251.2,590.0 2246.7,609.7 2242.7,629.3 2245.4,649.0 2272.9,668.7 2257.4,688.3 2249.8,708.0 2253.1,727.7 2247.2,747.3 2246.8,767.0 2249.4,786.7 2251.5,806.3 2250.9,826.0 2250.2,845.7 2252.6,865.3 2251.5,885.0 2250.4,904.7 2251.0,924.3 2251.6,944.0 2251.3,963.7 2252.0,983.3 2252.6,1003.0 2252.4,1022.7 2252.1,1042.4 2252.7,1062.0 2252.4,1081.7 2252.9,1101.4 2252.5,1121.0 2253.4,1140.7 2252.0,1160.4 2253.4,1180.0 2252.8,1199.7 2254.7,1219.4 2254.4,1239.0 2255.8,1258.7 2256.5,1278.4 2258.0,1298.0 2260.0,1317.7 2260.5,1337.4 2262.2,1357.0 2264.2,1376.7 2265.8,1396.4 2267.9,1416.0 2268.8,1435.7 2268.7,1455.4 2267.8,1475.0 2266.3,1494.7 2266.0,1514.4 2265.3,1534.0 2263.0,1553.7 2262.4,1573.4 2262.3,1593.0 2278.9,1612.7 2343.3,1632.4 2311.1,1652.1 2375.5,1671.7 2572.1,1691.4 2467.7,1711.1 2363.3,1730.7 2450.5,1750.4" fill="none" stroke="#ee5b4b" stroke-width="10" stroke-linejoin="round" stroke-linecap="butt"/>
</g>
<rect x="2139.0" y="216.3" width="1221.4" height="1652.1000000000001" fill="none" stroke="#fff" stroke-width="5.2"/>
<line x1="2126.2" x2="2137.0" y1="1789.7" y2="1789.7" stroke="#fff" stroke-width="3.1"/>
<line x1="2126.2" x2="2137.0" y1="1593.0" y2="1593.0" stroke="#fff" stroke-width="3.1"/>
<line x1="2126.2" x2="2137.0" y1="1396.4" y2="1396.4" stroke="#fff" stroke-width="3.1"/>
<line x1="2126.2" x2="2137.0" y1="1199.7" y2="1199.7" stroke="#fff" stroke-width="3.1"/>
<line x1="2126.2" x2="2137.0" y1="1003.0" y2="1003.0" stroke="#fff" stroke-width="3.1"/>
<line x1="2126.2" x2="2137.0" y1="806.3" y2="806.3" stroke="#fff" stroke-width="3.1"/>
<line x1="2126.2" x2="2137.0" y1="609.7" y2="609.7" stroke="#fff" stroke-width="3.1"/>
<line x1="2126.2" x2="2137.0" y1="413.0" y2="413.0" stroke="#fff" stroke-width="3.1"/>
<line x1="2126.2" x2="2137.0" y1="216.3" y2="216.3" stroke="#fff" stroke-width="3.1"/>
<line x1="2250.0" x2="2250.0" y1="1870.4" y2="1881.1" stroke="#fff" stroke-width="3.1"/>
<line x1="2472.1" x2="2472.1" y1="1870.4" y2="1881.1" stroke="#fff" stroke-width="3.1"/>
<line x1="2694.2" x2="2694.2" y1="1870.4" y2="1881.1" stroke="#fff" stroke-width="3.1"/>
<line x1="2916.3" x2="2916.3" y1="1870.4" y2="1881.1" stroke="#fff" stroke-width="3.1"/>
<line x1="3138.4" x2="3138.4" y1="1870.4" y2="1881.1" stroke="#fff" stroke-width="3.1"/>
<line x1="3360.5" x2="3360.5" y1="1870.4" y2="1881.1" stroke="#fff" stroke-width="3.1"/>
<rect x="15.8" y="760.4" width="420.4" height="895.5" rx="8" ry="8" fill="#000" stroke="#a3a3a3" stroke-width="3.4"/>
<line x1="26.1" x2="116" y1="791.0" y2="791.0" stroke="#0a4870" stroke-width="10"/>
<line x1="26.1" x2="116" y1="850.0" y2="850.0" stroke="#0a4d77" stroke-width="10"/>
<line x1="26.1" x2="116" y1="909.0" y2="909.0" stroke="#0b537f" stroke-width="10"/>
<line x1="26.1" x2="116" y1="968.0" y2="968.0" stroke="#0b5886" stroke-width="10"/>
<line x1="26.1" x2="116" y1="1027.0" y2="1027.0" stroke="#0b5e8d" stroke-width="10"/>
<line x1="26.1" x2="116" y1="1086.0" y2="1086.0" stroke="#0b6394" stroke-width="10"/>
<line x1="26.1" x2="116" y1="1145.0" y2="1145.0" stroke="#0c699c" stroke-width="10"/>
<line x1="26.1" x2="116" y1="1204.0" y2="1204.0" stroke="#0c6ea3" stroke-width="10"/>
<line x1="26.1" x2="116" y1="1263.0" y2="1263.0" stroke="#0c73aa" stroke-width="10"/>
<line x1="26.1" x2="116" y1="1322.0" y2="1322.0" stroke="#0d79b2" stroke-width="10"/>
<line x1="26.1" x2="116" y1="1381.0" y2="1381.0" stroke="#0d7eb9" stroke-width="10"/>
<line x1="26.1" x2="116" y1="1440.0" y2="1440.0" stroke="#0d84c0" stroke-width="10"/>
<line x1="26.1" x2="116" y1="1499.0" y2="1499.0" stroke="#0d89c7" stroke-width="10"/>
<line x1="26.1" x2="116" y1="1558.0" y2="1558.0" stroke="#0e8fcf" stroke-width="10"/>
<line x1="26.1" x2="116" y1="1617.0" y2="1617.0" stroke="#0e94d6" stroke-width="10"/>
<rect x="3380.0" y="965.6" width="418.2" height="484.2" rx="8" ry="8" fill="#000" stroke="#a3a3a3" stroke-width="3.4"/>
<line x1="3391" x2="3481" y1="996.9" y2="996.9" stroke="#4d0909" stroke-width="10"/>
<line x1="3391" x2="3481" y1="1055.8" y2="1055.8" stroke="#641512" stroke-width="10"/>
<line x1="3391" x2="3481" y1="1114.8" y2="1114.8" stroke="#7b201c" stroke-width="10"/>
<line x1="3391" x2="3481" y1="1173.8" y2="1173.8" stroke="#922c25" stroke-width="10"/>
<line x1="3391" x2="3481" y1="1232.7" y2="1232.7" stroke="#a9382f" stroke-width="10"/>
<line x1="3391" x2="3481" y1="1291.7" y2="1291.7" stroke="#c04438" stroke-width="10"/>
<line x1="3391" x2="3481" y1="1350.6" y2="1350.6" stroke="#d74f42" stroke-width="10"/>
<line x1="3391" x2="3481" y1="1409.5" y2="1409.5" stroke="#ee5b4b" stroke-width="10"/>
<line x1="39.7" x2="120" y1="1980.2" y2="1980.2" stroke="#fff" stroke-width="10" stroke-dasharray="37 16"/>
<line x1="39.7" x2="120" y1="2039.7" y2="2039.7" stroke="#fff" stroke-width="10" stroke-dasharray="10 16.5"/>
<rect x="40.5" y="2085.3" width="80.5" height="28.6" fill="#696d72" stroke="#9a9ea3" stroke-width="2.6"/>
<text transform="translate(773.12,101.70) scale(0.9763,1)" font-family="'DejaVu Sans','Liberation Sans',sans-serif" font-size="76.4" font-weight="bold" fill="#fff" stroke="#fff" stroke-width="0.6">SAGE</text>
<text transform="translate(1022.13,101.70) scale(0.9619,1)" font-family="'DejaVu Sans Mono','Liberation Mono',monospace" font-size="76.4" font-weight="bold" fill="#fff" stroke="#fff" stroke-width="0.6">III</text><text transform="translate(1155.30,101.70) scale(1.6500,1)" font-family="'DejaVu Sans','Liberation Sans',sans-serif" font-size="76.4" font-weight="bold" fill="#fff" stroke="#fff" stroke-width="0.6">/</text><text transform="translate(1202.48,101.70) scale(0.9529,1)" font-family="'DejaVu Sans Mono','Liberation Mono',monospace" font-size="76.4" font-weight="bold" fill="#fff" stroke="#fff" stroke-width="0.6">I</text><text transform="translate(1243.28,101.70) scale(1.0042,1)" font-family="'DejaVu Sans','Liberation Sans',sans-serif" font-size="76.4" font-weight="bold" fill="#fff" stroke="#fff" stroke-width="0.6">SS</text>
<text transform="translate(1371.26,101.70) scale(0.9177,1)" font-family="'DejaVu Sans','Liberation Sans',sans-serif" font-size="76.4" font-weight="bold" fill="#fff" stroke="#fff" stroke-width="0.6">1021nm</text>
<text transform="translate(1715.70,101.70) scale(0.9379,1)" font-family="'DejaVu Sans','Liberation Sans',sans-serif" font-size="76.4" font-weight="bold" fill="#fff" stroke="#fff" stroke-width="0.6">Aerosol</text><text transform="translate(2019.53,101.70) scale(1.1667,1)" font-family="'DejaVu Sans','Liberation Sans',sans-serif" font-size="76.4" font-weight="bold" fill="#fff" stroke="#fff" stroke-width="0.6">-</text><text transform="translate(2055.02,101.70) scale(0.8765,1)" font-family="'DejaVu Sans','Liberation Sans',sans-serif" font-size="76.4" font-weight="bold" fill="#fff" stroke="#fff" stroke-width="0.6">to</text><text transform="translate(2136.93,101.70) scale(1.1667,1)" font-family="'DejaVu Sans','Liberation Sans',sans-serif" font-size="76.4" font-weight="bold" fill="#fff" stroke="#fff" stroke-width="0.6">-</text><text transform="translate(2174.07,101.70) scale(0.9475,1)" font-family="'DejaVu Sans','Liberation Sans',sans-serif" font-size="76.4" font-weight="bold" fill="#fff" stroke="#fff" stroke-width="0.6">Molecular</text>
<text transform="translate(2601.44,101.70) scale(0.9513,1)" font-family="'DejaVu Sans','Liberation Sans',sans-serif" font-size="76.4" font-weight="bold" fill="#fff" stroke="#fff" stroke-width="0.6">Extinction</text>
<text transform="translate(3038.12,101.70) scale(0.9688,1)" font-family="'DejaVu Sans','Liberation Sans',sans-serif" font-size="76.4" font-weight="bold" fill="#fff" stroke="#fff" stroke-width="0.6">Ratio</text>
<text transform="translate(1757.32,190.00) scale(0.9138,1)" font-family="'DejaVu Sans','Liberation Sans',sans-serif" font-size="76.4" font-weight="bold" fill="#fff" stroke="#fff" stroke-width="0.6">23</text>
<text transform="translate(1885.51,190.00) scale(1.0534,1)" font-family="'DejaVu Sans','Liberation Sans',sans-serif" font-size="76.4" font-weight="bold" fill="#fff" stroke="#fff" stroke-width="0.6">July</text>
<text transform="translate(2078.00,190.00) scale(0.9168,1)" font-family="'DejaVu Sans','Liberation Sans',sans-serif" font-size="76.4" font-weight="bold" fill="#fff" stroke="#fff" stroke-width="0.6">2019</text>
<text transform="translate(1156.21,196.20) scale(0.9225,1)" font-family="'DejaVu Sans','Liberation Sans',sans-serif" font-size="64.5" font-weight="bold" fill="#fff" stroke="#fff" stroke-width="0.6">Sunrise</text>
<text transform="translate(2633.88,196.20) scale(0.9049,1)" font-family="'DejaVu Sans','Liberation Sans',sans-serif" font-size="64.5" font-weight="bold" fill="#fff" stroke="#fff" stroke-width="0.6">Sunset</text>
<text transform="translate(731.55,2001.90) scale(1.0539,1)" font-family="'DejaVu Sans','Liberation Sans',sans-serif" font-size="56.8" font-weight="normal" fill="#fff" stroke="#fff" stroke-width="1.25">Aerosol-To-Molecular Extinction Ratio</text>
<text transform="translate(558.40,1234.03) rotate(-90) scale(1.0300,1)" font-family="'DejaVu Sans','Liberation Sans',sans-serif" font-size="56.8" font-weight="normal" fill="#fff" stroke="#fff" stroke-width="1.25">Altitude [km]</text>
<text transform="translate(2197.75,2001.90) scale(1.0539,1)" font-family="'DejaVu Sans','Liberation Sans',sans-serif" font-size="56.8" font-weight="normal" fill="#fff" stroke="#fff" stroke-width="1.25">Aerosol-To-Molecular Extinction Ratio</text>
<text transform="translate(2024.60,1234.03) rotate(-90) scale(1.0300,1)" font-family="'DejaVu Sans','Liberation Sans',sans-serif" font-size="56.8" font-weight="normal" fill="#fff" stroke="#fff" stroke-width="1.25">Altitude [km]</text>
<text transform="translate(593.85,1807.03) scale(1.0848,1)" font-family="'Liberation Sans','DejaVu Sans',sans-serif" font-size="46" font-weight="normal" fill="#fff" stroke="#fff" stroke-width="0.74">10</text>
<text transform="translate(593.85,1610.37) scale(1.0848,1)" font-family="'Liberation Sans','DejaVu Sans',sans-serif" font-size="46" font-weight="normal" fill="#fff" stroke="#fff" stroke-width="0.74">15</text>
<text transform="translate(594.98,1413.70) scale(1.0617,1)" font-family="'Liberation Sans','DejaVu Sans',sans-serif" font-size="46" font-weight="normal" fill="#fff" stroke="#fff" stroke-width="0.74">20</text>
<text transform="translate(594.98,1217.03) scale(1.0617,1)" font-family="'Liberation Sans','DejaVu Sans',sans-serif" font-size="46" font-weight="normal" fill="#fff" stroke="#fff" stroke-width="0.74">25</text>
<text transform="translate(594.98,1020.37) scale(1.0617,1)" font-family="'Liberation Sans','DejaVu Sans',sans-serif" font-size="46" font-weight="normal" fill="#fff" stroke="#fff" stroke-width="0.74">30</text>
<text transform="translate(594.98,823.70) scale(1.0617,1)" font-family="'Liberation Sans','DejaVu Sans',sans-serif" font-size="46" font-weight="normal" fill="#fff" stroke="#fff" stroke-width="0.74">35</text>
<text transform="translate(596.06,627.03) scale(1.0396,1)" font-family="'Liberation Sans','DejaVu Sans',sans-serif" font-size="46" font-weight="normal" fill="#fff" stroke="#fff" stroke-width="0.74">40</text>
<text transform="translate(596.06,430.37) scale(1.0396,1)" font-family="'Liberation Sans','DejaVu Sans',sans-serif" font-size="46" font-weight="normal" fill="#fff" stroke="#fff" stroke-width="0.74">45</text>
<text transform="translate(594.98,233.70) scale(1.0617,1)" font-family="'Liberation Sans','DejaVu Sans',sans-serif" font-size="46" font-weight="normal" fill="#fff" stroke="#fff" stroke-width="0.74">50</text>
<text transform="translate(770.85,1927.00) scale(1.0000,1)" font-family="'Liberation Sans','DejaVu Sans',sans-serif" font-size="46" font-weight="normal" fill="#fff" stroke="#fff" stroke-width="0.74">0</text>
<text transform="translate(979.41,1927.00) scale(1.0404,1)" font-family="'Liberation Sans','DejaVu Sans',sans-serif" font-size="46" font-weight="normal" fill="#fff" stroke="#fff" stroke-width="0.74">20</text>
<text transform="translate(1202.56,1927.00) scale(1.0188,1)" font-family="'Liberation Sans','DejaVu Sans',sans-serif" font-size="46" font-weight="normal" fill="#fff" stroke="#fff" stroke-width="0.74">40</text>
<text transform="translate(1423.59,1927.00) scale(1.0404,1)" font-family="'Liberation Sans','DejaVu Sans',sans-serif" font-size="46" font-weight="normal" fill="#fff" stroke="#fff" stroke-width="0.74">60</text>
<text transform="translate(1645.68,1927.00) scale(1.0404,1)" font-family="'Liberation Sans','DejaVu Sans',sans-serif" font-size="46" font-weight="normal" fill="#fff" stroke="#fff" stroke-width="0.74">80</text>
<text transform="translate(1854.49,1927.00) scale(1.0208,1)" font-family="'Liberation Sans','DejaVu Sans',sans-serif" font-size="46" font-weight="normal" fill="#fff" stroke="#fff" stroke-width="0.74">100</text>
<text transform="translate(2060.05,1807.03) scale(1.0848,1)" font-family="'Liberation Sans','DejaVu Sans',sans-serif" font-size="46" font-weight="normal" fill="#fff" stroke="#fff" stroke-width="0.74">10</text>
<text transform="translate(2060.05,1610.37) scale(1.0848,1)" font-family="'Liberation Sans','DejaVu Sans',sans-serif" font-size="46" font-weight="normal" fill="#fff" stroke="#fff" stroke-width="0.74">15</text>
<text transform="translate(2061.18,1413.70) scale(1.0617,1)" font-family="'Liberation Sans','DejaVu Sans',sans-serif" font-size="46" font-weight="normal" fill="#fff" stroke="#fff" stroke-width="0.74">20</text>
<text transform="translate(2061.18,1217.03) scale(1.0617,1)" font-family="'Liberation Sans','DejaVu Sans',sans-serif" font-size="46" font-weight="normal" fill="#fff" stroke="#fff" stroke-width="0.74">25</text>
<text transform="translate(2061.18,1020.37) scale(1.0617,1)" font-family="'Liberation Sans','DejaVu Sans',sans-serif" font-size="46" font-weight="normal" fill="#fff" stroke="#fff" stroke-width="0.74">30</text>
<text transform="translate(2061.18,823.70) scale(1.0617,1)" font-family="'Liberation Sans','DejaVu Sans',sans-serif" font-size="46" font-weight="normal" fill="#fff" stroke="#fff" stroke-width="0.74">35</text>
<text transform="translate(2062.26,627.03) scale(1.0396,1)" font-family="'Liberation Sans','DejaVu Sans',sans-serif" font-size="46" font-weight="normal" fill="#fff" stroke="#fff" stroke-width="0.74">40</text>
<text transform="translate(2062.26,430.37) scale(1.0396,1)" font-family="'Liberation Sans','DejaVu Sans',sans-serif" font-size="46" font-weight="normal" fill="#fff" stroke="#fff" stroke-width="0.74">45</text>
<text transform="translate(2061.18,233.70) scale(1.0617,1)" font-family="'Liberation Sans','DejaVu Sans',sans-serif" font-size="46" font-weight="normal" fill="#fff" stroke="#fff" stroke-width="0.74">50</text>
<text transform="translate(2237.05,1927.00) scale(1.0000,1)" font-family="'Liberation Sans','DejaVu Sans',sans-serif" font-size="46" font-weight="normal" fill="#fff" stroke="#fff" stroke-width="0.74">0</text>
<text transform="translate(2445.61,1927.00) scale(1.0404,1)" font-family="'Liberation Sans','DejaVu Sans',sans-serif" font-size="46" font-weight="normal" fill="#fff" stroke="#fff" stroke-width="0.74">20</text>
<text transform="translate(2668.76,1927.00) scale(1.0187,1)" font-family="'Liberation Sans','DejaVu Sans',sans-serif" font-size="46" font-weight="normal" fill="#fff" stroke="#fff" stroke-width="0.74">40</text>
<text transform="translate(2889.79,1927.00) scale(1.0404,1)" font-family="'Liberation Sans','DejaVu Sans',sans-serif" font-size="46" font-weight="normal" fill="#fff" stroke="#fff" stroke-width="0.74">60</text>
<text transform="translate(3111.88,1927.00) scale(1.0404,1)" font-family="'Liberation Sans','DejaVu Sans',sans-serif" font-size="46" font-weight="normal" fill="#fff" stroke="#fff" stroke-width="0.74">80</text>
<text transform="translate(3320.69,1927.00) scale(1.0208,1)" font-family="'Liberation Sans','DejaVu Sans',sans-serif" font-size="46" font-weight="normal" fill="#fff" stroke="#fff" stroke-width="0.74">100</text>
<text transform="translate(143.14,804.80) scale(0.9819,1)" font-family="'Liberation Sans','DejaVu Sans',sans-serif" font-size="40.4" font-weight="normal" fill="#fff" stroke="#fff" stroke-width="0.65">2019072305SR</text>
<text transform="translate(143.14,863.80) scale(0.9819,1)" font-family="'Liberation Sans','DejaVu Sans',sans-serif" font-size="40.4" font-weight="normal" fill="#fff" stroke="#fff" stroke-width="0.65">2019072308SR</text>
<text transform="translate(143.11,922.80) scale(0.9927,1)" font-family="'Liberation Sans','DejaVu Sans',sans-serif" font-size="40.4" font-weight="normal" fill="#fff" stroke="#fff" stroke-width="0.65">2019072311SR</text>
<text transform="translate(143.14,981.80) scale(0.9819,1)" font-family="'Liberation Sans','DejaVu Sans',sans-serif" font-size="40.4" font-weight="normal" fill="#fff" stroke="#fff" stroke-width="0.65">2019072314SR</text>
<text transform="translate(143.14,1040.80) scale(0.9819,1)" font-family="'Liberation Sans','DejaVu Sans',sans-serif" font-size="40.4" font-weight="normal" fill="#fff" stroke="#fff" stroke-width="0.65">2019072317SR</text>
<text transform="translate(143.14,1099.80) scale(0.9819,1)" font-family="'Liberation Sans','DejaVu Sans',sans-serif" font-size="40.4" font-weight="normal" fill="#fff" stroke="#fff" stroke-width="0.65">2019072320SR</text>
<text transform="translate(143.14,1158.80) scale(0.9819,1)" font-family="'Liberation Sans','DejaVu Sans',sans-serif" font-size="40.4" font-weight="normal" fill="#fff" stroke="#fff" stroke-width="0.65">2019072323SR</text>
<text transform="translate(143.14,1217.80) scale(0.9819,1)" font-family="'Liberation Sans','DejaVu Sans',sans-serif" font-size="40.4" font-weight="normal" fill="#fff" stroke="#fff" stroke-width="0.65">2019072326SR</text>
<text transform="translate(143.14,1276.80) scale(0.9819,1)" font-family="'Liberation Sans','DejaVu Sans',sans-serif" font-size="40.4" font-weight="normal" fill="#fff" stroke="#fff" stroke-width="0.65">2019072331SR</text>
<text transform="translate(143.14,1335.80) scale(0.9819,1)" font-family="'Liberation Sans','DejaVu Sans',sans-serif" font-size="40.4" font-weight="normal" fill="#fff" stroke="#fff" stroke-width="0.65">2019072334SR</text>
<text transform="translate(143.14,1394.80) scale(0.9819,1)" font-family="'Liberation Sans','DejaVu Sans',sans-serif" font-size="40.4" font-weight="normal" fill="#fff" stroke="#fff" stroke-width="0.65">2019072337SR</text>
<text transform="translate(143.14,1453.80) scale(0.9819,1)" font-family="'Liberation Sans','DejaVu Sans',sans-serif" font-size="40.4" font-weight="normal" fill="#fff" stroke="#fff" stroke-width="0.65">2019072340SR</text>
<text transform="translate(143.14,1512.80) scale(0.9819,1)" font-family="'Liberation Sans','DejaVu Sans',sans-serif" font-size="40.4" font-weight="normal" fill="#fff" stroke="#fff" stroke-width="0.65">2019072343SR</text>
<text transform="translate(143.14,1571.80) scale(0.9819,1)" font-family="'Liberation Sans','DejaVu Sans',sans-serif" font-size="40.4" font-weight="normal" fill="#fff" stroke="#fff" stroke-width="0.65">2019072346SR</text>
<text transform="translate(143.14,1630.80) scale(0.9819,1)" font-family="'Liberation Sans','DejaVu Sans',sans-serif" font-size="40.4" font-weight="normal" fill="#fff" stroke="#fff" stroke-width="0.65">2019072349SR</text>
<text transform="translate(3508.28,1010.90) scale(0.9622,1)" font-family="'Liberation Sans','DejaVu Sans',sans-serif" font-size="40.4" font-weight="normal" fill="#fff" stroke="#fff" stroke-width="0.65">2019072319SS</text>
<text transform="translate(3508.28,1069.85) scale(0.9622,1)" font-family="'Liberation Sans','DejaVu Sans',sans-serif" font-size="40.4" font-weight="normal" fill="#fff" stroke="#fff" stroke-width="0.65">2019072322SS</text>
<text transform="translate(3508.28,1128.80) scale(0.9622,1)" font-family="'Liberation Sans','DejaVu Sans',sans-serif" font-size="40.4" font-weight="normal" fill="#fff" stroke="#fff" stroke-width="0.65">2019072325SS</text>
<text transform="translate(3508.28,1187.75) scale(0.9622,1)" font-family="'Liberation Sans','DejaVu Sans',sans-serif" font-size="40.4" font-weight="normal" fill="#fff" stroke="#fff" stroke-width="0.65">2019072328SS</text>
<text transform="translate(3508.28,1246.70) scale(0.9622,1)" font-family="'Liberation Sans','DejaVu Sans',sans-serif" font-size="40.4" font-weight="normal" fill="#fff" stroke="#fff" stroke-width="0.65">2019072333SS</text>
<text transform="translate(3508.28,1305.65) scale(0.9622,1)" font-family="'Liberation Sans','DejaVu Sans',sans-serif" font-size="40.4" font-weight="normal" fill="#fff" stroke="#fff" stroke-width="0.65">2019072336SS</text>
<text transform="translate(3508.28,1364.60) scale(0.9622,1)" font-family="'Liberation Sans','DejaVu Sans',sans-serif" font-size="40.4" font-weight="normal" fill="#fff" stroke="#fff" stroke-width="0.65">2019072339SS</text>
<text transform="translate(3508.28,1423.55) scale(0.9622,1)" font-family="'Liberation Sans','DejaVu Sans',sans-serif" font-size="40.4" font-weight="normal" fill="#fff" stroke="#fff" stroke-width="0.65">2019072342SS</text>
<text transform="translate(151.42,1994.00) scale(1.0208,1)" font-family="'DejaVu Sans','Liberation Sans',sans-serif" font-size="39.1" font-weight="normal" fill="#fff" stroke="#fff" stroke-width="0.86">Mean Tropopause</text>
<text transform="translate(151.43,2053.50) scale(1.0185,1)" font-family="'DejaVu Sans','Liberation Sans',sans-serif" font-size="39.1" font-weight="normal" fill="#fff" stroke="#fff" stroke-width="0.86">Median Tropopause</text>
<text transform="translate(153.80,2113.00) scale(1.0201,1)" font-family="'DejaVu Sans','Liberation Sans',sans-serif" font-size="39.1" font-weight="normal" fill="#fff" stroke="#fff" stroke-width="0.86">Tropopause Range</text>
<text transform="translate(3266.10,2038.40) scale(1.1019,1)" font-family="'DejaVu Sans','Liberation Sans',sans-serif" font-size="31.7" font-weight="normal" fill="#808080" stroke="#808080" stroke-width="0.7">SAGE III/ISS Mission | NASA LaRC</text>
<text transform="translate(3311.16,2076.40) scale(1.0474,1)" font-family="'DejaVu Sans','Liberation Sans',sans-serif" font-size="31.7" font-weight="normal" fill="#808080" stroke="#808080" stroke-width="0.7">Preparer: Kevin R. Leavor (AMA)</text>
<text transform="translate(3388.15,2113.40) scale(0.9743,1)" font-family="'DejaVu Sans','Liberation Sans',sans-serif" font-size="31.7" font-weight="normal" fill="#808080" stroke="#808080" stroke-width="0.7">Generated 2025-07-17 22:25</text>
<text transform="translate(3532.37,2150.70) scale(1.0097,1)" font-family="'DejaVu Sans','Liberation Sans',sans-serif" font-size="31.7" font-weight="normal" fill="#808080" stroke="#808080" stroke-width="0.7">Data Version: 6.0.0</text>
<g id="patch">
<path d="M3494.0,51.1 A33.0,33.0 0 0 1 3527.0,18.1 L3797.0,18.1 A33.0,33.0 0 0 1 3830.0,51.1 L3830.0,223.3 A168.0,168.0 0 0 1 3494.0,223.3 Z" fill="#e8604f"/>
<path d="M3500.2,51.1 A26.8,26.8 0 0 1 3527.0,24.3 L3797.0,24.3 A26.8,26.8 0 0 1 3823.8,51.1 L3823.8,223.3 A161.8,161.8 0 0 1 3500.2,223.3 Z" fill="#0f5088"/>
<defs><clipPath id="ringin"><circle cx="3661.7" cy="219.8" r="126.2"/></clipPath><clipPath id="atmo"><circle cx="3299.3" cy="513.8" r="486"/></clipPath><path id="arc" d="M3508.82,257.26 A156.9,156.9 0 0 0 3818.61,232.88"/></defs>
<circle cx="3661.7" cy="219.8" r="133.3" fill="none" stroke="#d2d8e3" stroke-width="14.8"/>
<g clip-path="url(#ringin)">
<circle cx="3299.3" cy="513.8" r="486" fill="#1464a0"/>
<circle cx="3299.3" cy="513.8" r="469.1" fill="#5ba66b"/>
<defs><clipPath id="earth"><circle cx="3299.3" cy="513.8" r="469.1"/></clipPath></defs>
<g clip-path="url(#earth)">
<polygon points="3623.0,173.0 3631.2,164.7 3676.0,216.0 3709.1,269.0 3735.6,318.7 3719.0,302.2 3705.8,290.6 3695.9,298.9 3692.5,313.8 3682.6,308.8 3676.0,292.2 3667.7,285.6 3666.0,297.2 3652.8,302.2 3642.8,288.9 3642.8,272.4 3652.8,259.1 3666.0,252.5 3664.4,235.9 3659.4,216.0 3652.8,202.8 3639.5,187.9" fill="#0f5791"/>
<polygon points="3601.4,282.3 3608.0,288.9 3626.3,303.8 3639.5,313.8 3659.4,317.1 3676.0,312.1 3685.9,318.7 3694.2,330.3 3697.5,350.2 3593.1,350.2" fill="#0f5791"/>
<polygon points="3620.5,200.3 3626.3,202.8 3629.6,209.4 3637.9,206.9 3642.8,212.7 3649.5,209.4 3652.8,216.0 3646.1,219.3 3637.9,226.0 3631.2,224.3 3632.9,216.0 3626.3,216.0 3623.0,209.4" fill="#0f5791"/>
</g>
<circle cx="3735.6" cy="280.6" r="23.2" fill="#fcd98c"/>
<g clip-path="url(#atmo)"><circle cx="3735.6" cy="280.6" r="23.2" fill="#c9cfdb"/></g>
<circle cx="3299.3" cy="513.8" r="469.1" fill="none" stroke="#f0f6fb" stroke-width="1.1"/>
<circle cx="3637.0" cy="144.2" r="23.7" fill="#f3f3f8"/>
<polygon points="3616.4,137.1 3620.3,129.3 3627.1,124.5 3636.7,122.6 3646.4,124.5 3652.7,130.3 3652.2,135.1 3646.4,134.2 3643.5,140.0 3647.8,143.8 3646.4,151.5 3641.5,154.4 3637.2,151.5 3637.7,145.7 3633.8,143.8 3630.0,148.6 3626.1,150.1 3620.3,145.3" fill="#c6c8d2"/>
<circle cx="3641.5" cy="149.9" r="4.2" fill="#b4b7c2"/>
<circle cx="3643.5" cy="138.5" r="2.6" fill="#b4b7c2"/>
<circle cx="3629.5" cy="130.6" r="2.2" fill="#f3f3f8"/>
<circle cx="3633.5" cy="133.0" r="1.6" fill="#f3f3f8"/>
<line x1="3715.9" y1="190.5" x2="3656" y2="159.5" stroke="#f0f6fb" stroke-width="1.1"/>
<line x1="3715.9" y1="190.5" x2="3647.5" y2="167" stroke="#f0f6fb" stroke-width="1.1"/>
<line x1="3715.9" y1="190.5" x2="3669.9" y2="225.8" stroke="#f0f6fb" stroke-width="1.1"/>
<line x1="3715.9" y1="190.5" x2="3677.4" y2="232.2" stroke="#f0f6fb" stroke-width="1.1"/>
<line x1="3715.9" y1="190.5" x2="3722.4" y2="255.8" stroke="#f0f6fb" stroke-width="1.1"/>
<line x1="3715.9" y1="190.5" x2="3733" y2="255.8" stroke="#f0f6fb" stroke-width="1.1"/>
<line x1="3607" y1="138" x2="3628" y2="162" stroke="#cfe0ee" stroke-width="0.8"/>
<path d="M3693.5,107.8 L3694.86,114.94 L3702.0,116.3 L3694.86,117.66 L3693.5,124.8 L3692.14,117.66 L3685.0,116.3 L3692.14,114.94Z" fill="#fbe3a0"/>
<path d="M3680.2,122.8 L3681.048,127.252 L3685.5,128.1 L3681.048,128.948 L3680.2,133.4 L3679.352,128.948 L3674.8999999999996,128.1 L3679.352,127.252Z" fill="#fff"/>
<path d="M3703.5,127.19999999999999 L3704.124,130.476 L3707.4,131.1 L3704.124,131.724 L3703.5,135.0 L3702.876,131.724 L3699.6,131.1 L3702.876,130.476Z" fill="#fff"/>
<g transform="translate(3728.8,179.8) rotate(46.6)" fill="#c6c9d0">
<rect x="-31.0" y="-16" width="3.3" height="14"/><rect x="-31.0" y="2" width="3.3" height="14"/>
<rect x="-26.1" y="-16" width="3.3" height="14"/><rect x="-26.1" y="2" width="3.3" height="14"/>
<rect x="-21.2" y="-16" width="3.3" height="14"/><rect x="-21.2" y="2" width="3.3" height="14"/>
<rect x="-16.3" y="-16" width="3.3" height="14"/><rect x="-16.3" y="2" width="3.3" height="14"/>
<rect x="12.5" y="-16" width="3.3" height="14"/><rect x="12.5" y="2" width="3.3" height="14"/>
<rect x="17.4" y="-16" width="3.3" height="14"/><rect x="17.4" y="2" width="3.3" height="14"/>
<rect x="22.3" y="-16" width="3.3" height="14"/><rect x="22.3" y="2" width="3.3" height="14"/>
<rect x="27.2" y="-16" width="3.3" height="14"/><rect x="27.2" y="2" width="3.3" height="14"/>
<rect x="-32" y="-1" width="64" height="1.8"/>
<rect x="-8" y="-9" width="1.6" height="18"/>
<rect x="-3" y="-11" width="1.6" height="20"/>
<rect x="2" y="-8" width="1.6" height="17"/>
<rect x="6" y="-6" width="1.4" height="12"/>
<rect x="-10" y="-6" width="22" height="1.4"/>
<rect x="-9" y="4" width="18" height="1.4"/>
</g>
</g>
<polygon points="3543.8,152.8 3528.6,167.2 3518.7,179.7 3513.3,208.4 3503.5,242.5 3525.9,231.8 3538.5,215.6 3551.0,213.8 3554.6,190.5" fill="#c8453a"/>
<polygon points="3516.9,190.5 3507.9,233.6 3503.5,242.5 3522.3,228.2 3527.7,204.9" fill="#e05a4a"/>
<g clip-path="url(#ringin)">
<polygon points="3552.8,213.8 3604.9,215.6 3606.7,269.5 3608.1,344.8 3507.9,344.8 3507.9,233.6 3542.0,231.8" fill="#d9503f"/>
<polygon points="3561.8,226.4 3570.8,226.4 3583.3,314.3 3574.4,303.6" fill="#b8392e"/>
<polygon points="3549.2,233.6 3555.5,231.8 3569.0,292.8 3561.8,280.2" fill="#9c2a20"/>
<polygon points="3573.5,228.2 3579.7,229.1 3593.2,321.5 3587.8,317.9" fill="#9c2a20"/>
<polygon points="3593.2,231.8 3597.7,232.1 3604.9,330.5 3601.3,328.7" fill="#9c2a20"/>
<polygon points="3583.3,230.0 3590.5,231.8 3599.5,325.1 3592.3,321.5" fill="#b8392e"/>
<polygon points="3601.3,233.6 3605.8,233.6 3607.6,332.3 3604.9,330.5" fill="#e8705f"/>
</g>
<polygon points="3543.8,152.8 3561.8,147.4 3583.3,165.4 3604.9,190.5 3608.4,197.7 3604.9,213.8 3552.8,212.0 3549.2,190.5 3531.3,169.0" fill="#dd5545"/>
<polygon points="3549.2,165.4 3569.0,169.0 3576.1,190.5 3565.4,194.1 3554.6,186.9" fill="#b8392e"/>
<polygon points="3538.8,215.3 3553.2,212.8 3542.4,232.7 3538.1,244.7 3525.9,231.8" fill="#0f5088"/>
<polygon points="3543.8,152.8 3549.2,186.9 3553.2,212.8 3538.8,215.3 3528.6,167.2" fill="#c8453a"/>
<polygon points="3521.4,183.3 3528.6,174.4 3534.9,197.7 3532.2,219.2 3520.5,233.6 3511.5,237.2 3516.9,208.4" fill="#8e241c"/>
<polygon points="3554.6,206.7 3604.9,216.5 3604.1,224.2 3553.2,213.8" fill="#8b4a22"/>
<polygon points="3586.9,218.3 3594.1,214.7 3601.6,217.8 3602.2,226.4 3595.0,230.3 3587.5,227.1" fill="#6e3415" stroke="#c98a4a" stroke-width="0.8"/>
<polygon points="3604.9,167.2 3615.6,170.8 3613.8,190.5 3606.7,192.3" fill="#8c3b2d"/>
<polygon points="3607.6,178.8 3615.6,177.9 3616.5,187.8 3610.2,191.4" fill="#dba66e"/>
<polygon points="3560.0,145.6 3563.3,140.6 3569.9,134.9 3578.2,130.7 3584.9,127.9 3595.6,127.9 3602.2,130.7 3606.1,136.5 3607.2,144.0 3599.8,139.8 3593.1,138.2 3590.6,143.1 3591.5,149.8 3595.6,157.2 3602.7,159.7 3601.4,179.6 3597.3,187.9 3589.8,190.4 3583.2,182.9 3579.1,166.3 3574.9,158.0 3566.6,151.4" fill="#f4f4f4"/>
<polygon points="3594.0,136.8 3601.4,134.9 3606.4,142.3 3607.5,151.4 3603.7,153.4 3602.4,158.0 3595.6,157.2 3591.5,149.8 3590.6,142.3" fill="#d9a36a"/>
<polygon points="3595.1,153.4 3603.4,154.1 3602.7,159.7 3601.7,164.7 3596.8,162.7 3594.0,158.0" fill="#f4f4f4"/>
<polygon points="3597.8,146.8 3603.4,148.4 3603.4,149.8 3597.8,148.4" fill="#5a3a24"/>
<polyline points="3533.1,123.2 3537.0,149.2 3541.1,176.1 3545.6,206.7 3550.1,235.4 3553.2,258.7 3559.1,276.6 3562.7,294.6" fill="none" stroke="#7a4518" stroke-width="4.6"/>
<polyline points="3533.1,123.2 3537.0,149.2 3541.1,176.1 3545.6,206.7 3550.1,235.4 3553.2,258.7 3559.1,276.6 3562.7,294.6" fill="none" stroke="#c17f3a" stroke-width="2.2"/>
<polygon points="3528.6,177.9 3543.8,174.4 3548.3,185.1 3543.8,195.0 3533.1,193.2" fill="#dba66e"/>
<circle cx="3532.7" cy="113" r="10.4" fill="#d3d6df" stroke="#eef0f4" stroke-width="1.2"/>
<text x="3527.0" y="58.9" font-family="'Liberation Serif','DejaVu Serif',serif" font-size="40.5" font-weight="bold" fill="#fff" textLength="266.5" lengthAdjust="spacingAndGlyphs">SAGE III • ISS</text>
<text x="3527.5" y="71.6" font-family="'Liberation Sans','DejaVu Sans',sans-serif" font-size="7.9" fill="#d5e2ee" textLength="173.3" lengthAdjust="spacingAndGlyphs">Stratospheric Aerosol and Gas Experiment III</text>
<text x="3763.3" y="71.6" font-family="'Liberation Sans','DejaVu Sans',sans-serif" font-size="7.9" fill="#d5e2ee" text-anchor="middle">International</text>
<text x="3763.3" y="82.7" font-family="'Liberation Sans','DejaVu Sans',sans-serif" font-size="7.9" fill="#d5e2ee" text-anchor="middle">Space Station</text>
<text font-family="'Liberation Sans','DejaVu Sans',sans-serif" font-size="15" font-weight="bold" fill="#fff"><textPath href="#arc" textLength="446" lengthAdjust="spacing">BALL • NASA LANGLEY RESEARCH CENTER • TAS-I • ESA</textPath></text>
</g>
</svg>
</body></html>
